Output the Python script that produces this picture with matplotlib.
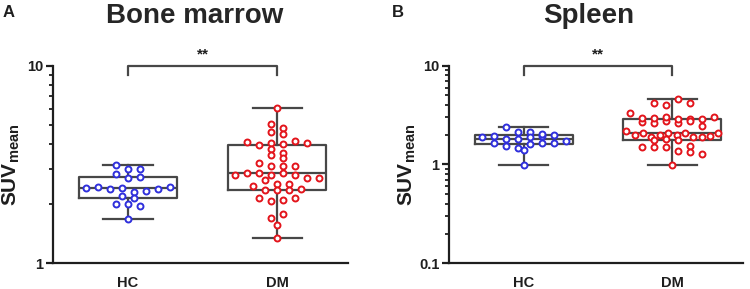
import numpy as np
import matplotlib
matplotlib.use("Agg")
import matplotlib.pyplot as plt
from matplotlib import ticker, transforms

plt.rcParams["font.family"] = ["Liberation Sans", "DejaVu Sans"]
plt.rcParams["font.weight"] = "bold"
plt.rcParams["mathtext.fontset"] = "custom"
plt.rcParams["mathtext.rm"] = "Liberation Sans"
plt.rcParams["mathtext.bf"] = "Liberation Sans:bold"

groups = ["HC", "DM"]

# SUVmean values
bm_hc = [3.14, 3.01, 3.01, 2.83, 2.70, 2.73,
         2.41, 2.42, 2.37, 2.40, 2.30, 2.31, 2.38, 2.42,
         2.18, 2.13, 2.00, 2.00, 1.95, 1.68]
bm_dm = [6.09, 5.07, 4.84, 4.62, 4.51,
         4.12, 3.98, 4.06, 4.00, 4.17, 4.08,
         3.80, 3.60, 3.53, 3.40, 3.23, 3.12, 3.12, 3.10,
         2.79, 2.87, 2.87, 2.79, 2.87, 2.79,
         2.65, 2.71, 2.71, 2.47, 2.51, 2.53,
         2.34, 2.34, 2.34, 2.38, 2.13, 2.07, 2.10, 2.15,
         1.70, 1.77, 1.56, 1.35]
sp_hc = [2.38, 2.15, 2.12,
         1.88, 1.96, 1.80, 1.81, 1.91, 1.96, 1.99, 2.03,
         1.66, 1.54, 1.48, 1.61, 1.66, 1.64, 1.73,
         1.40, 0.99]
sp_dm = [4.16, 4.03, 4.63, 4.19, 3.34,
         2.69, 2.95, 2.65, 2.95, 2.74, 2.61, 3.02, 2.91, 2.91, 2.74, 2.87, 3.00,
         2.45, 2.18,
         1.97, 2.07, 1.88, 2.00, 2.10, 2.00, 2.06, 1.91, 1.88, 1.94, 2.10,
         1.77, 1.80, 1.77,
         1.54, 1.49, 1.49, 1.49,
         1.36, 1.34, 1.29, 0.99]

bm_ylim = (1, 10)
bm_yticks = [1, 10]
sp_ylim = (0.1, 10)
sp_yticks = [0.1, 1, 10]

BLUE = "#2f2fdc"
RED = "#e3141b"
GREY = "#474747"
INK = "#1e1e1e"


def box_stats(vals):
    q1, med, q3 = np.percentile(vals, [25, 50, 75], method="weibull")
    return dict(med=med, q1=q1, q3=q3, whislo=min(vals), whishi=max(vals),
                fliers=[])


def swarm_offsets(ax, vals, spacing=12.0, max_width=92.0, gap=5.0):
    vals = np.asarray(vals, dtype=float)
    y = ax.transData.transform(np.column_stack([np.zeros_like(vals), vals]))[:, 1]
    px = (ax.transData.transform([[1, 1]])[0, 0]
          - ax.transData.transform([[0, 1]])[0, 0])
    order = np.argsort(-y, kind="stable")
    dx = np.zeros_like(vals)
    i = 0
    while i < len(order):
        j = i
        while j + 1 < len(order) and y[order[i]] - y[order[j + 1]] < gap:
            j += 1
        idx = np.sort(order[i:j + 1])
        n = len(idx)
        step = spacing if n < 2 else min(spacing, max_width / (n - 1))
        dx[idx] = (np.arange(n) - (n - 1) / 2) * step / px
        i = j + 1
    return dx


def panel(ax, hc, dm, ylim, yticks, gap):
    ax.set_yscale("log")
    ax.set_ylim(*ylim)
    ax.set_xlim(-0.503, 1.475)

    ax.bxp([box_stats(hc), box_stats(dm)], positions=[0, 1], widths=0.66,
           capwidths=0.33, showfliers=False, manage_ticks=False,
           boxprops=dict(color=GREY, lw=1.6),
           whiskerprops=dict(color=GREY, lw=1.6),
           capprops=dict(color=GREY, lw=1.6),
           medianprops=dict(color=GREY, lw=1.6))

    for pos, vals, col in [(0, hc, BLUE), (1, dm, RED)]:
        x = pos + swarm_offsets(ax, vals, gap=gap)
        ax.plot(x, vals, "o", ms=4.3, mew=1.4, mfc="white", mec=col,
                ls="none", zorder=3)

    for side in ["top", "right"]:
        ax.spines[side].set_visible(False)
    for side in ["left", "bottom"]:
        ax.spines[side].set_linewidth(1.6)
        ax.spines[side].set_color(INK)

    ax.yaxis.set_major_locator(ticker.FixedLocator(yticks))
    ax.yaxis.set_major_formatter(ticker.FuncFormatter(lambda v, p: f"{v:g}"))
    ax.yaxis.set_minor_locator(ticker.LogLocator(subs=np.arange(2, 10)))
    ax.yaxis.set_minor_formatter(ticker.NullFormatter())
    ax.tick_params(axis="y", which="major", length=5, width=1.6, color=INK,
                   labelsize=10.5, pad=2, labelcolor=INK)
    ax.tick_params(axis="y", which="minor", length=3, width=1.3, color=INK)

    ax.set_xticks([0, 1])
    ax.set_xticklabels(groups)
    ax.tick_params(axis="x", length=0, labelsize=10.5, pad=9, labelcolor=INK)

    ax.set_ylabel(r"$\mathbf{SUV}_{\mathbf{mean}}$", fontsize=15, color=INK)
    ax.yaxis.set_label_coords(-0.105, 0.5)

    # significance bracket
    tr = transforms.blended_transform_factory(ax.transData, ax.transAxes)
    ax.plot([0, 0, 1, 1], [0.954, 1, 1, 0.954], color=GREY, lw=1.6,
            transform=tr, clip_on=False)
    ax.text(0.5, 1.02, "**", transform=tr, ha="center", va="bottom",
            fontsize=11, color=INK)


fig = plt.figure(figsize=(7.5, 2.89), dpi=100)
ax_a = fig.add_axes([53 / 750, 25.7 / 289, 295 / 750, 197.7 / 289])
ax_b = fig.add_axes([449 / 750, 25.7 / 289, 294 / 750, 197.7 / 289])

panel(ax_a, bm_hc, bm_dm, bm_ylim, bm_yticks, gap=5.0)
panel(ax_b, sp_hc, sp_dm, sp_ylim, sp_yticks, gap=7.0)

fig.text(195 / 750, 1 - 23 / 289, "Bone marrow", ha="center", va="baseline",
         fontsize=20, fontweight="bold", color="#262626")
fig.text(589 / 750, 1 - 23 / 289, "Spleen", ha="center", va="baseline",
         fontsize=20, fontweight="bold", color="#262626")
fig.text(3 / 750, 1 - 17 / 289, "A", ha="left", va="baseline",
         fontsize=12, fontweight="bold", color=INK)
fig.text(392 / 750, 1 - 17 / 289, "B", ha="left", va="baseline",
         fontsize=12, fontweight="bold", color=INK)

fig.savefig("out.png", dpi=100)
